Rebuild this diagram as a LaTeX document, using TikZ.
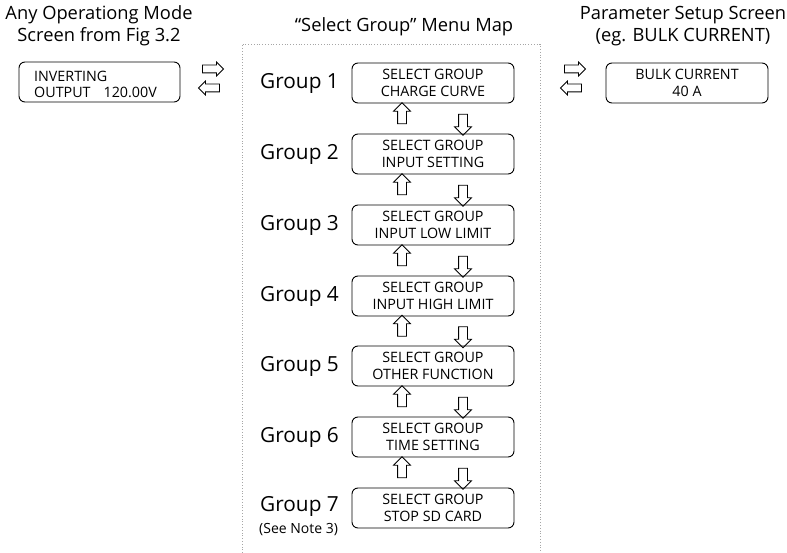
\documentclass[tikz,border=0pt]{standalone}
\usepackage{fontspec}
\setmainfont{Open Sans}
\usetikzlibrary{shapes.arrows,calc}

\begin{document}
\begin{tikzpicture}[x=1pt,y=-1pt,
  screen/.style={draw, line width=0.9pt, rounded corners=6pt, minimum width=162pt,
    minimum height=40pt, inner sep=0pt, align=center, font=\fontsize{14.3}{16.5}\selectfont},
  lcdtext/.style={anchor=west, inner sep=0pt, font=\fontsize{14.3}{16.5}\selectfont},
  uparrow/.style={single arrow, draw, line width=0.8pt, inner sep=4pt, minimum height=21pt,
    single arrow head extend=4pt, shape border rotate=90},
  downarrow/.style={uparrow, shape border rotate=270},
  rarrow/.style={single arrow, draw, line width=0.8pt, inner sep=3.5pt, minimum height=21pt,
    single arrow head extend=3pt},
  larrow/.style={rarrow, shape border rotate=180},
  title/.style={align=center, font=\fontsize{18.3}{22}\selectfont},
  grouplabel/.style={anchor=west, inner sep=0pt, font=\fontsize{20.8}{24}\selectfont}]

\useasboundingbox (0,0) rectangle (787,553);

% Titles
\node[title] (optitle) at (99,26) {Any Operationg Mode\\Screen from Fig 3.2};
\node[title] (maptitle) at (404,27) {“Select Group” Menu Map};
\node[title] (partitle) at (683,26) {Parameter Setup Screen\\(eg. BULK CURRENT)};

% Menu map frame
\draw[gray!70, dotted, line width=0.8pt] (242,553) |- (540,44) -- (540,553);

% Operating mode screen
\node[screen, minimum width=161pt] (opscr) at (99.5,82) {};
\node[lcdtext] (opline1) at (34,76) {INVERTING};
\node[lcdtext] (opline2) at (34,92) {OUTPUT};
\node[lcdtext, anchor=east] (opvalue) at (157,92) {120.00V};

% Parameter setup screen
\node[screen] (parscr) at (687,83) {BULK CURRENT\\40 A};

% Left and right arrows
\node[rarrow] (ltor1) at (211,69) {};
\node[larrow] (ltol1) at (211,88) {};
\node[rarrow] (ltor2) at (573,69) {};
\node[larrow] (ltol2) at (573,88) {};

% Group screens
\node[screen] (g1) at (433,83) {SELECT GROUP\\CHARGE CURVE};
\node[screen] (g2) at (433,154) {SELECT GROUP\\INPUT SETTING};
\node[screen] (g3) at (433,225) {SELECT GROUP\\INPUT LOW LIMIT};
\node[screen] (g4) at (433,296) {SELECT GROUP\\INPUT HIGH LIMIT};
\node[screen] (g5) at (433,366) {SELECT GROUP\\OTHER FUNCTION};
\node[screen] (g6) at (433,437) {SELECT GROUP\\TIME SETTING};
\node[screen] (g7) at (433,508) {SELECT GROUP\\STOP SD CARD};

% Group labels
\node[grouplabel] (l1) at (260,83) {Group 1};
\node[grouplabel] (l2) at (260,154) {Group 2};
\node[grouplabel] (l3) at (260,225) {Group 3};
\node[grouplabel] (l4) at (260,296) {Group 4};
\node[grouplabel] (l5) at (260,366) {Group 5};
\node[grouplabel] (l6) at (260,437) {Group 6};
\node[grouplabel] (l7) at (260,506) {Group 7};
\node[grouplabel, font=\fontsize{14}{16}\selectfont] (note7) at (259,530) {(See Note 3)};

% Up and down arrows between groups
\node[uparrow] (u12) at ($(g1)!0.5!(g2)+(-31,-3)$) {};
\node[downarrow] (d12) at ($(g1)!0.5!(g2)+(30,4)$) {};
\node[uparrow] (u23) at ($(g2)!0.5!(g3)+(-31,-3)$) {};
\node[downarrow] (d23) at ($(g2)!0.5!(g3)+(30,4)$) {};
\node[uparrow] (u34) at ($(g3)!0.5!(g4)+(-31,-3)$) {};
\node[downarrow] (d34) at ($(g3)!0.5!(g4)+(30,4)$) {};
\node[uparrow] (u45) at ($(g4)!0.5!(g5)+(-31,-3)$) {};
\node[downarrow] (d45) at ($(g4)!0.5!(g5)+(30,4)$) {};
\node[uparrow] (u56) at ($(g5)!0.5!(g6)+(-31,-3)$) {};
\node[downarrow] (d56) at ($(g5)!0.5!(g6)+(30,4)$) {};
\node[uparrow] (u67) at ($(g6)!0.5!(g7)+(-31,-3)$) {};
\node[downarrow] (d67) at ($(g6)!0.5!(g7)+(30,4)$) {};

\end{tikzpicture}
\end{document}
